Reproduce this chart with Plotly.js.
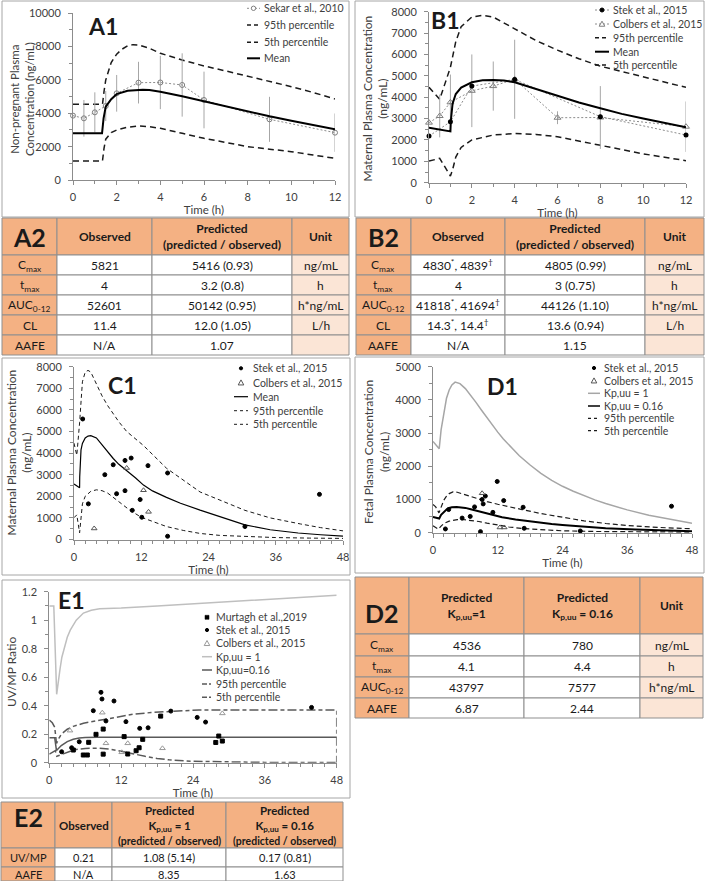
<!DOCTYPE html>
<html><head><meta charset="utf-8">
<script src="https://cdn.plot.ly/plotly-3.0.1.min.js"></script>
<style>html,body{margin:0;padding:0;background:#fff}#chart{width:705px;height:881px}</style>
</head><body><div id="chart"></div>
<script>
// ================= DATA =================
// A1 – non-pregnant plasma (0-12 h)
const A1_obsTime = [0, 0.5, 1, 1.5, 2, 3, 4, 5, 6, 9, 12];
const A1_sekar   = [3860, 3700, 4060, 4440, 5200, 5840, 5850, 5700, 4800, 3640, 2840];
const A1_sekarSD = [0, 1100, 1200, 900, 1100, 1250, 1600, 1900, 1700, 1350, 1150];
const A1_meanTime = [0, 1.33, 1.4, 1.5, 1.75, 2, 2.5, 3, 3.2, 3.5, 4, 5, 6, 7, 8, 9, 10, 11, 12];
const A1_mean     = [2800, 2800, 3700, 4400, 4850, 5150, 5350, 5410, 5416, 5400, 5300, 5020, 4720, 4400, 4100, 3820, 3560, 3300, 3040];
const A1_p95Time = [0, 1.35, 1.42, 1.5, 1.75, 2, 2.25, 2.5, 2.75, 3, 3.5, 4, 5, 6, 7, 8, 9, 10, 11, 12];
const A1_p95     = [4540, 4540, 5300, 6000, 7050, 7550, 7850, 8050, 8120, 8100, 7900, 7600, 7200, 6840, 6540, 6240, 5930, 5600, 5250, 4860];
const A1_p5Time = [0, 1.35, 1.42, 1.5, 1.75, 2, 2.5, 3, 3.5, 4, 5, 6, 7, 8, 9, 10, 11, 12];
const A1_p5     = [1140, 1140, 1900, 2450, 2850, 3000, 3170, 3240, 3200, 3100, 2800, 2500, 2250, 2000, 1850, 1700, 1500, 1300];

// B1 – maternal plasma (0-12 h)
const B1_stekTime = [0, 1, 2, 4, 8, 12];
const B1_stek     = [2180, 2850, 4520, 4830, 3090, 2230];
const B1_colbersTime = [0, 0.5, 1, 2, 3, 4, 6, 8, 12];
const B1_colbers     = [2810, 3120, 3760, 4300, 4520, 4839, 3040, 3050, 2620];
const B1_colbersSD   = [0, 1000, 1300, 1700, 1150, 1850, 300, 1470, 1180];
const B1_meanTime = [0, 0.5, 1, 1.02, 1.1, 1.25, 1.5, 2, 2.5, 3, 3.5, 4, 5, 6, 7, 8, 9, 10, 11, 12];
const B1_mean     = [2570, 2480, 2400, 2900, 3700, 4150, 4450, 4700, 4790, 4805, 4780, 4700, 4380, 4050, 3750, 3480, 3220, 3000, 2780, 2590];
const B1_p95Time = [0, 0.5, 1, 1.25, 1.5, 2, 2.5, 3, 4, 5, 6, 7, 8, 9, 10, 11, 12];
const B1_p95     = [4460, 3900, 5400, 6600, 7300, 7750, 7830, 7750, 7200, 6650, 6200, 5800, 5450, 5200, 4950, 4700, 4460];
const B1_p5Time = [0, 0.5, 1, 1.1, 1.25, 1.5, 2, 3, 4, 5, 6, 7, 8, 9, 10, 11, 12];
const B1_p5     = [1010, 1140, 310, 600, 1200, 1650, 2000, 2230, 2300, 2260, 2150, 1950, 1730, 1540, 1350, 1190, 1030];

// C1 – maternal plasma (0-48 h)
const C1_stekTime = [1.55, 2.56, 5.5, 7.0, 7.6, 9.1, 9.1, 10.2, 10.4, 11.8, 12.1, 13.2, 16.7, 16.7, 30.5, 43.8];
const C1_stek     = [5580, 1650, 3000, 3460, 2120, 3660, 2260, 3770, 1350, 1850, 1030, 3420, 3080, 150, 600, 2090];
const C1_colbersTime = [3.6, 9.4, 12.4, 13.3];
const C1_colbers     = [510, 3310, 2280, 1280];
const C1_meanTime = [0, 0.5, 1, 1.02, 1.1, 1.25, 1.5, 2, 2.5, 3, 4, 5, 6, 7, 8, 9.4, 11, 12.4, 14, 16.5, 19, 22.5, 26, 30.5, 35, 40, 44, 48];
const C1_mean     = [2570, 2480, 2400, 2900, 3700, 4150, 4450, 4700, 4790, 4805, 4700, 4380, 4050, 3750, 3480, 3200, 2850, 2520, 2250, 1950, 1680, 1360, 1050, 680, 450, 300, 220, 160];
const C1_p95Time = [0, 0.5, 1, 1.25, 1.5, 2, 2.5, 3, 4, 5, 6, 7, 8, 9.4, 12.4, 16.5, 22.5, 30.5, 35, 40.4, 44, 48];
const C1_p95     = [4460, 3900, 5400, 6600, 7300, 7750, 7830, 7750, 7200, 6650, 6200, 5800, 5450, 5000, 4350, 3300, 2200, 1350, 1000, 720, 550, 400];
const C1_p5Time = [0, 0.5, 1, 1.1, 1.25, 1.5, 2, 3, 4, 5, 6, 7, 8, 10, 12, 14, 16.5, 19.5, 22.5, 26, 30.5, 36, 42, 48];
const C1_p5     = [1010, 1140, 310, 600, 1200, 1650, 2000, 2230, 2300, 2260, 2150, 1950, 1730, 1350, 1030, 830, 600, 420, 280, 190, 130, 90, 65, 50];

// D1 – fetal plasma (0-48 h)
const D1_stekTime = [2.3, 2.9, 5.4, 6.9, 7.7, 8.8, 9.1, 9.3, 9.7, 11.1, 11.9, 13.1, 16.7, 16.9, 27.3, 44.2];
const D1_stek     = [116, 700, 443, 493, 780, 35, 1003, 870, 1105, 615, 1545, 970, 770, 135, 55, 800];
const D1_colbersTime = [9.1, 12.4, 13.2];
const D1_colbers     = [1190, 160, 160];
const D1_kp1Time = [0, 0.5, 1.15, 1.5, 2, 2.5, 3, 3.5, 4.1, 5, 6, 7, 8, 9, 10, 11, 12, 13, 14, 15, 16, 18, 20, 22, 24, 26, 28, 30, 32, 36, 40, 44, 48];
const D1_kp1     = [2750, 2650, 2530, 3100, 3650, 4050, 4300, 4450, 4536, 4490, 4340, 4140, 3920, 3690, 3460, 3240, 3030, 2830, 2650, 2480, 2320, 2040, 1790, 1580, 1400, 1250, 1110, 990, 880, 690, 530, 400, 290];
const D1_kp016Time = [0, 0.5, 1.15, 1.5, 2, 2.5, 3, 3.5, 4.4, 5, 6, 7, 8, 9.7, 11, 12.8, 15.3, 17.5, 19.6, 22, 24, 28, 32, 37.5, 42, 48];
const D1_kp016     = [480, 460, 430, 540, 630, 700, 745, 770, 780, 775, 750, 710, 665, 590, 540, 470, 400, 350, 310, 265, 235, 180, 140, 100, 75, 50];
const D1_p95Time = [0, 0.5, 1.1, 1.5, 2, 2.5, 3, 3.7, 4.5, 5.5, 7, 8.5, 10, 12, 14, 16.5, 20, 24, 28, 32, 36, 42, 48];
const D1_p95     = [850, 780, 600, 800, 980, 1100, 1180, 1230, 1220, 1170, 1090, 1010, 940, 860, 780, 700, 580, 460, 360, 280, 220, 160, 120];
const D1_p5Time = [0, 0.5, 1, 1.5, 2, 3, 4.5, 5.5, 7, 8.5, 10, 12, 14, 16.5, 20, 24, 30, 36, 48];
const D1_p5     = [210, 170, 110, 200, 280, 350, 395, 400, 380, 340, 290, 230, 180, 130, 90, 60, 40, 30, 20];

// E1 – UV/MP ratio (0-48 h)
const E1_murtaghTime = [4.01, 5.68, 6.35, 6.58, 7.8, 9.0, 9.0, 12.5, 13.1, 14.5, 15.0, 15.6, 18.6, 27.8, 28.3, 28.9];
const E1_murtagh     = [0.089, 0.054, 0.054, 0.143, 0.199, 0.236, 0.06, 0.183, 0.061, 0.084, 0.105, 0.164, 0.327, 0.142, 0.187, 0.152];
const E1_stekTime = [2.06, 3.73, 5.0, 7.35, 8.63, 8.8, 9.46, 10.8, 12.8, 15.1, 16.5, 20.3, 24.7, 26.1, 43.8];
const E1_stek     = [0.077, 0.105, 0.147, 0.365, 0.494, 0.447, 0.293, 0.433, 0.288, 0.241, 0.245, 0.362, 0.318, 0.285, 0.388];
const E1_colbersTime = [3.45, 8.85, 9.46, 12.1, 13.1, 18.9, 28.9];
const E1_colbers     = [0.225, 0.351, 0.136, 0.073, 0.136, 0.101, 0.346];
const E1_kp1Time = [0, 0.75, 1.23, 1.5, 1.8, 2.1, 2.5, 3, 3.5, 4.5, 5.7, 7, 8.4, 12, 18, 24, 30, 36, 42, 48];
const E1_kp1     = [1.10, 1.10, 0.48, 0.58, 0.66, 0.74, 0.81, 0.88, 0.93, 1.0, 1.05, 1.07, 1.08, 1.085, 1.10, 1.115, 1.13, 1.145, 1.16, 1.175];
const E1_kp016Time = [0, 0.9, 1.2, 1.5, 2, 3, 4, 5, 6, 8, 12, 24, 36, 48];
const E1_kp016     = [0.175, 0.175, 0.085, 0.1, 0.12, 0.148, 0.165, 0.173, 0.177, 0.178, 0.178, 0.178, 0.178, 0.178];
const E1_p95Time = [0, 0.5, 0.9, 1.2, 1.6, 2, 3, 4, 5.7, 8, 11.2, 14, 17, 19.6, 22, 25, 30, 36, 42, 48, 48];
const E1_p95     = [0.30, 0.28, 0.25, 0.135, 0.17, 0.2, 0.235, 0.255, 0.277, 0.295, 0.323, 0.34, 0.352, 0.358, 0.363, 0.37, 0.37, 0.37, 0.37, 0.37, 0];
const E1_p5Time = [0, 0.5, 1, 1.25, 1.6, 2, 3, 4, 5, 6, 8, 10, 12, 14, 16, 18, 20, 24, 30, 36, 48];
const E1_p5     = [0.06, 0.075, 0.085, 0.045, 0.05, 0.06, 0.075, 0.088, 0.096, 0.1, 0.102, 0.095, 0.08, 0.06, 0.045, 0.03, 0.02, 0.01, 0.004, 0.002, 0.002];

// Legend labels
const A1_legend = ['Sekar et al., 2010', '95th percentile', '5th percentile', 'Mean'];
const B1_legend = ['Stek et al., 2015', 'Colbers et al., 2015', '95th percentile', 'Mean', '5th percentile'];
const C1_legend = ['Stek et al., 2015', 'Colbers et al., 2015', 'Mean', '95th percentile', '5th percentile'];
const D1_legend = ['Stek et al., 2015', 'Colbers et al., 2015', 'Kp,uu = 1', 'Kp,uu = 0.16', '95th percentile', '5th percentile'];
const E1_legend = ['Murtagh et al.,2019', 'Stek et al., 2015', 'Colbers et al., 2015', 'Kp,uu = 1', 'Kp,uu=0.16', '95th percentile', '5th percentile'];

// Tables
const A2_header = ['A2', 'Observed', 'Predicted<br>(predicted / observed)', 'Unit'];
const A2_param = ['C<sub>max</sub>', 't<sub>max</sub>', 'AUC<sub>0-12</sub>', 'CL', 'AAFE'];
const A2_observed = ['5821', '4', '52601', '11.4', 'N/A'];
const A2_predicted = ['5416 (0.93)', '3.2 (0.8)', '50142 (0.95)', '12.0 (1.05)', '1.07'];
const A2_unit = ['ng/mL', 'h', 'h*ng/mL', 'L/h', ''];

const B2_header = ['B2', 'Observed', 'Predicted<br>(predicted / observed)', 'Unit'];
const B2_param = ['C<sub>max</sub>', 't<sub>max</sub>', 'AUC<sub>0-12</sub>', 'CL', 'AAFE'];
const B2_observed = ['4830<sup>*</sup>, 4839<sup>†</sup>', '4', '41818<sup>*</sup>, 41694<sup>†</sup>', '14.3<sup>*</sup>, 14.4<sup>†</sup>', 'N/A'];
const B2_predicted = ['4805 (0.99)', '3 (0.75)', '44126 (1.10)', '13.6 (0.94)', '1.15'];
const B2_unit = ['ng/mL', 'h', 'h*ng/mL', 'L/h', ''];

const D2_header = ['D2', 'Predicted<br>K<sub>p,uu</sub>=1', 'Predicted<br>K<sub>p,uu</sub> = 0.16', 'Unit'];
const D2_param = ['C<sub>max</sub>', 't<sub>max</sub>', 'AUC<sub>0-12</sub>', 'AAFE'];
const D2_kp1 = ['4536', '4.1', '43797', '6.87'];
const D2_kp016 = ['780', '4.4', '7577', '2.44'];
const D2_unit = ['ng/mL', 'h', 'h*ng/mL', ''];

const E2_header = ['E2', 'Observed', 'Predicted<br>K<sub>p,uu</sub> = 1<br><span style="font-size:10.5px">(predicted / observed)</span>', 'Predicted<br>K<sub>p,uu</sub> = 0.16<br><span style="font-size:10.5px">(predicted / observed)</span>'];
const E2_param = ['UV/MP', 'AAFE'];
const E2_observed = ['0.21', 'N/A'];
const E2_kp1 = ['1.08 (5.14)', '8.35'];
const E2_kp016 = ['0.17 (0.81)', '1.63'];

// ================= STYLE / LAYOUT HELPERS =================
const FONT = 'Lato, "Open Sans", "DejaVu Sans", sans-serif';
const W = 705, H = 881;
const fx = p => p / W;
const fy = p => 1 - p / H;
const AXC = '#8c8c8c', TXT = '#404040';
const ORANGE = '#f4b183', PEACH = '#fbe5d6', WHITE = '#ffffff', GRID = '#8f8f8f';

function xAxis(x0, x1, yid, range, dtick, minor) {
  return {domain: [fx(x0), fx(x1)], anchor: yid, range: range, dtick: dtick, tick0: 0,
    showgrid: false, zeroline: false, showline: true, linecolor: AXC, linewidth: 1,
    ticks: 'outside', ticklen: 4, tickcolor: AXC, ticklabelstandoff: 3, tickformat: 'd',
    tickfont: {family: FONT, size: 11, color: TXT},
    minor: {ticks: 'outside', ticklen: 3, dtick: minor, tickcolor: AXC, showgrid: false},
    title: {text: 'Time (h)', font: {family: FONT, size: 11.5, color: TXT}, standoff: 1},
    fixedrange: true};
}
function yAxis(yTop, yBot, xid, range, dtick, minor, fmt) {
  return {domain: [fy(yBot), fy(yTop)], anchor: xid, range: range, dtick: dtick, tick0: 0,
    showgrid: false, zeroline: false, showline: true, linecolor: AXC, linewidth: 1,
    ticks: 'outside', ticklen: 4, tickcolor: AXC, ticklabelstandoff: 5, tickformat: fmt,
    exponentformat: 'none',
    tickfont: {family: FONT, size: 11, color: TXT},
    minor: {ticks: 'outside', ticklen: 3, dtick: minor, tickcolor: AXC, showgrid: false},
    fixedrange: true};
}

const shapes = [], annotations = [];
function rect(x0, y0, x1, y1, fill, lc, lw) {
  shapes.push({type: 'rect', xref: 'paper', yref: 'paper', x0: fx(x0), x1: fx(x1), y0: fy(y1), y1: fy(y0),
    fillcolor: fill || 'rgba(0,0,0,0)', line: {color: lc, width: lw}});
}
function seg(x0, x1, y, color, width, dash) {
  shapes.push({type: 'line', xref: 'paper', yref: 'paper', x0: fx(x0), x1: fx(x1), y0: fy(y), y1: fy(y),
    line: {color: color, width: width, dash: dash || 'solid'}});
}
function dot(cx, cy, r, fill, stroke) {
  shapes.push({type: 'circle', xref: 'paper', yref: 'paper', x0: fx(cx - r), x1: fx(cx + r), y0: fy(cy + r), y1: fy(cy - r),
    fillcolor: fill, line: {color: stroke, width: 1}});
}
function tri(cx, cy, s, stroke) {
  const p = 'M' + fx(cx - s) + ',' + fy(cy + s * 0.8) + 'L' + fx(cx + s) + ',' + fy(cy + s * 0.8) + 'L' + fx(cx) + ',' + fy(cy - s) + 'Z';
  shapes.push({type: 'path', xref: 'paper', yref: 'paper', path: p, fillcolor: '#ffffff', line: {color: stroke, width: 1}});
}
function txt(x, y, t, size, color, extra) {
  if (!t) return;
  annotations.push(Object.assign({xref: 'paper', yref: 'paper', x: fx(x), y: fy(y), text: t, showarrow: false,
    xanchor: 'center', yanchor: 'middle', font: {family: FONT, size: size, color: color}}, extra || {}));
}

function drawLegend(labels, items, ys, sx0, sx1, tx) {
  labels.forEach((lab, i) => {
    const it = items[i], y = ys[i], mid = (sx0 + sx1) / 2;
    if (it.line) seg(sx0, sx1, y, it.line[0], it.line[1], it.line[2]);
    if (it.mk === 'dot') dot(mid, y, it.r || 1.8, it.c, it.c);
    if (it.mk === 'ocircle') dot(mid, y, 2.2, '#ffffff', it.c);
    if (it.mk === 'tri') tri(mid, y, 2.8, it.c);
    if (it.mk === 'sq') rect(mid - 2, y - 2, mid + 2, y + 2, it.c, it.c, 0.5);
    txt(tx, y, lab, 10.5, TXT, {xanchor: 'left'});
  });
}

// labelDy shifts the big panel label inside the first header cell
function drawTable(colX, rowY, header, cols, fills, labelSize, headSize, bodySize, labelDy) {
  for (let c = 0; c < header.length; c++) {
    const cx = (colX[c] + colX[c + 1]) / 2;
    rect(colX[c], rowY[0], colX[c + 1], rowY[1], ORANGE, GRID, 1);
    const hy = (rowY[0] + rowY[1]) / 2 + (c === 0 ? (labelDy || 0) : 0);
    txt(cx, hy, '<b>' + header[c] + '</b>', c === 0 ? labelSize : headSize, '#1a1a1a');
    for (let r = 0; r < cols[c].length; r++) {
      rect(colX[c], rowY[r + 1], colX[c + 1], rowY[r + 2], fills[c], GRID, 1);
      txt(cx, (rowY[r + 1] + rowY[r + 2]) / 2, cols[c][r], bodySize, '#1a1a1a');
    }
  }
}

// ================= TRACES =================
const traces = [];
function lineTr(x, y, xa, ya, color, width, dash) {
  traces.push({type: 'scatter', mode: 'lines', x: x, y: y, xaxis: xa, yaxis: ya,
    line: {color: color, width: width, dash: dash || 'solid'}, hoverinfo: 'skip', cliponaxis: false});
}
function ptsTr(x, y, xa, ya, symbol, size, color, extra) {
  traces.push(Object.assign({type: 'scatter', mode: 'markers', x: x, y: y, xaxis: xa, yaxis: ya,
    marker: {symbol: symbol, size: size, color: color, line: {color: color, width: 1}}, hoverinfo: 'skip', cliponaxis: false}, extra || {}));
}

// A1
lineTr(A1_p95Time, A1_p95, 'x', 'y', '#1a1a1a', 1.5, '6px,4px');
lineTr(A1_p5Time, A1_p5, 'x', 'y', '#1a1a1a', 1.5, '6px,4px');
traces.push({type: 'scatter', mode: 'lines+markers', x: A1_obsTime, y: A1_sekar, xaxis: 'x', yaxis: 'y',
  line: {color: '#8c8c8c', width: 1, dash: '2px,2px'}, marker: {symbol: 'circle-open', size: 5, color: '#7f7f7f', line: {width: 1}},
  error_y: {type: 'data', array: A1_sekarSD, visible: true, color: '#a6a6a6', thickness: 1, width: 0}, cliponaxis: false, hoverinfo: 'skip'});
lineTr(A1_meanTime, A1_mean, 'x', 'y', '#000000', 2);

// B1
lineTr(B1_p95Time, B1_p95, 'x2', 'y2', '#1a1a1a', 1.5, '6px,4px');
lineTr(B1_p5Time, B1_p5, 'x2', 'y2', '#1a1a1a', 1.5, '6px,4px');
traces.push({type: 'scatter', mode: 'lines+markers', x: B1_colbersTime, y: B1_colbers, xaxis: 'x2', yaxis: 'y2',
  line: {color: '#8c8c8c', width: 1, dash: '2px,2px'}, marker: {symbol: 'triangle-up-open', size: 6, color: '#7f7f7f', line: {width: 1}},
  error_y: {type: 'data', array: B1_colbersSD, visible: true, color: '#a6a6a6', thickness: 1, width: 0}, cliponaxis: false, hoverinfo: 'skip'});
traces.push({type: 'scatter', mode: 'lines+markers', x: B1_stekTime, y: B1_stek, xaxis: 'x2', yaxis: 'y2',
  line: {color: '#8c8c8c', width: 1, dash: '2px,2px'}, marker: {symbol: 'circle', size: 5, color: '#000000'}, cliponaxis: false, hoverinfo: 'skip'});
lineTr(B1_meanTime, B1_mean, 'x2', 'y2', '#000000', 2);

// C1
lineTr(C1_p95Time, C1_p95, 'x3', 'y3', '#1a1a1a', 1, '4px,3px');
lineTr(C1_p5Time, C1_p5, 'x3', 'y3', '#1a1a1a', 1, '4px,3px');
lineTr(C1_meanTime, C1_mean, 'x3', 'y3', '#000000', 1.2);
ptsTr(C1_stekTime, C1_stek, 'x3', 'y3', 'circle', 4, '#000000');
ptsTr(C1_colbersTime, C1_colbers, 'x3', 'y3', 'triangle-up-open', 5, '#555555');

// D1
lineTr(D1_kp1Time, D1_kp1, 'x4', 'y4', '#a6a6a6', 1.5);
lineTr(D1_p95Time, D1_p95, 'x4', 'y4', '#1a1a1a', 1.2, '5px,3px');
lineTr(D1_p5Time, D1_p5, 'x4', 'y4', '#1a1a1a', 1.2, '5px,3px');
lineTr(D1_kp016Time, D1_kp016, 'x4', 'y4', '#000000', 2);
ptsTr(D1_stekTime, D1_stek, 'x4', 'y4', 'circle', 4, '#000000');
ptsTr(D1_colbersTime, D1_colbers, 'x4', 'y4', 'triangle-up-open', 5, '#555555');

// E1
lineTr(E1_kp1Time, E1_kp1, 'x5', 'y5', '#bfbfbf', 1.5);
lineTr(E1_p95Time, E1_p95, 'x5', 'y5', '#595959', 1.5, '9px,3px,4px,3px');
lineTr(E1_p5Time, E1_p5, 'x5', 'y5', '#595959', 1.5, '9px,3px,4px,3px');
lineTr(E1_kp016Time, E1_kp016, 'x5', 'y5', '#595959', 1.5);
ptsTr(E1_murtaghTime, E1_murtagh, 'x5', 'y5', 'square', 4, '#000000');
ptsTr(E1_stekTime, E1_stek, 'x5', 'y5', 'circle', 4, '#000000');
ptsTr(E1_colbersTime, E1_colbers, 'x5', 'y5', 'triangle-up-open', 5, '#999999');

// ================= DECORATION =================
const FRAME = '#a6a6a6';
rect(2, 1, 349, 217, null, FRAME, 1);
rect(355, 1, 704, 217, null, FRAME, 1);
rect(2, 358, 350, 575, null, FRAME, 1);
rect(355, 357, 704, 573, null, FRAME, 1);
rect(2, 580, 350, 798, null, FRAME, 1);

txt(103.5, 25.5, '<b>A1</b>', 23, '#1a1a1a');
txt(445, 20, '<b>B1</b>', 23, '#1a1a1a');
txt(122.5, 384.5, '<b>C1</b>', 23, '#1a1a1a');
txt(502, 385.5, '<b>D1</b>', 23, '#1a1a1a');
txt(71.5, 599.5, '<b>E1</b>', 23, '#1a1a1a');

txt(22, 99, 'Non-pregnant Plasma<br>Concentration (ng/mL)', 11.5, TXT, {textangle: -90});
txt(375.5, 99, 'Maternal Plasma Concentration<br>(ng/mL)', 12, TXT, {textangle: -90});
txt(18.5, 453, 'Maternal Plasma Concentration<br>(ng/mL)', 12, TXT, {textangle: -90});
txt(376, 452, 'Fetal Plasma Concentration<br>(ng/mL)', 12, TXT, {textangle: -90});
txt(11, 672, 'UV/MP Ratio', 12, TXT, {textangle: -90});

const DASH = '4px,3px';
drawLegend(A1_legend, [
  {line: ['#8c8c8c', 1, '2px,2px'], mk: 'ocircle', c: '#7f7f7f'},
  {line: ['#1a1a1a', 1.5, DASH]},
  {line: ['#1a1a1a', 1.5, DASH]},
  {line: ['#000000', 2]}], [8.3, 25, 42.3, 58.3], 247, 260, 262);
drawLegend(B1_legend, [
  {line: ['#8c8c8c', 1, '2px,2px'], mk: 'dot', c: '#000000', r: 2},
  {line: ['#8c8c8c', 1, '2px,2px'], mk: 'tri', c: '#7f7f7f'},
  {line: ['#1a1a1a', 1.5, DASH]},
  {line: ['#000000', 2]},
  {line: ['#1a1a1a', 1.5, DASH]}], [10, 24, 37.7, 51.7, 65], 595, 609, 611);
drawLegend(C1_legend, [
  {mk: 'dot', c: '#000000', r: 1.6},
  {mk: 'tri', c: '#555555'},
  {line: ['#000000', 1.2]},
  {line: ['#1a1a1a', 1, '3px,3px']},
  {line: ['#1a1a1a', 1, '3px,3px']}], [368.3, 382.7, 396.7, 410.7, 424.3], 234, 248, 251);
drawLegend(D1_legend, [
  {mk: 'dot', c: '#000000', r: 1.6},
  {mk: 'tri', c: '#555555'},
  {line: ['#a6a6a6', 1.5]},
  {line: ['#000000', 1.5]},
  {line: ['#1a1a1a', 1.2, '3px,3px']},
  {line: ['#1a1a1a', 1.2, '3px,3px']}], [368, 380.7, 393.3, 406, 418.3, 430.7], 588, 600, 602);
drawLegend(E1_legend, [
  {mk: 'sq', c: '#000000'},
  {mk: 'dot', c: '#000000', r: 1.6},
  {mk: 'tri', c: '#999999'},
  {line: ['#bfbfbf', 1.5]},
  {line: ['#595959', 1.5]},
  {line: ['#595959', 1.5, '5px,2px,2px,2px']},
  {line: ['#595959', 1.5, '5px,2px,2px,2px']}], [617.3, 630, 643.3, 656.7, 670, 684, 697.3], 202, 212, 214);

drawTable([2, 57, 152, 292, 349], [218, 255, 275, 295, 315, 335, 355],
  A2_header, [A2_param, A2_observed, A2_predicted, A2_unit], [ORANGE, WHITE, WHITE, PEACH], 25, 12, 12, 0);
drawTable([356, 411, 505, 645, 704], [218, 255, 275, 295, 315, 335, 355],
  B2_header, [B2_param, B2_observed, B2_predicted, B2_unit], [ORANGE, WHITE, WHITE, PEACH], 25, 12, 12, 0);
drawTable([355, 409, 524, 640, 703], [577, 634, 656, 677, 698, 718],
  D2_header, [D2_param, D2_kp1, D2_kp016, D2_unit], [ORANGE, WHITE, WHITE, PEACH], 25, 12, 12, 7);
drawTable([1, 55, 112, 226, 343], [802, 848, 867, 881],
  E2_header, [E2_param, E2_observed, E2_kp1, E2_kp016], [ORANGE, WHITE, WHITE, WHITE], 25, 11.5, 11, -8);

const layout = {
  width: W, height: H, margin: {l: 0, r: 0, t: 0, b: 0}, paper_bgcolor: '#ffffff', plot_bgcolor: '#ffffff',
  showlegend: false, hovermode: false, font: {family: FONT, color: TXT},
  xaxis: xAxis(73, 335, 'y', [0, 12], 2, 1),
  yaxis: yAxis(13.3, 180, 'x', [0, 10000], 2000, 1000, 'd'),
  xaxis2: xAxis(429, 686, 'y2', [0, 12], 2, 1),
  yaxis2: yAxis(11.7, 182.7, 'x2', [0, 8000], 1000, 500, 'd'),
  xaxis3: xAxis(74, 343, 'y3', [0, 48], 12, 2),
  yaxis3: yAxis(366.7, 539.5, 'x3', [0, 8000], 1000, 500, 'd'),
  xaxis4: xAxis(433, 692, 'y4', [0, 48], 12, 2),
  yaxis4: yAxis(366.7, 532.8, 'x4', [0, 5000], 1000, 500, 'd'),
  xaxis5: xAxis(49.3, 336.7, 'y5', [0, 48], 12, 2),
  yaxis5: yAxis(591.7, 762.7, 'x5', [0, 1.2], 0.2, 0.1, ''),
  shapes: shapes, annotations: annotations
};
Plotly.newPlot('chart', traces, layout, {staticPlot: true, displayModeBar: false});
</script></body></html>
